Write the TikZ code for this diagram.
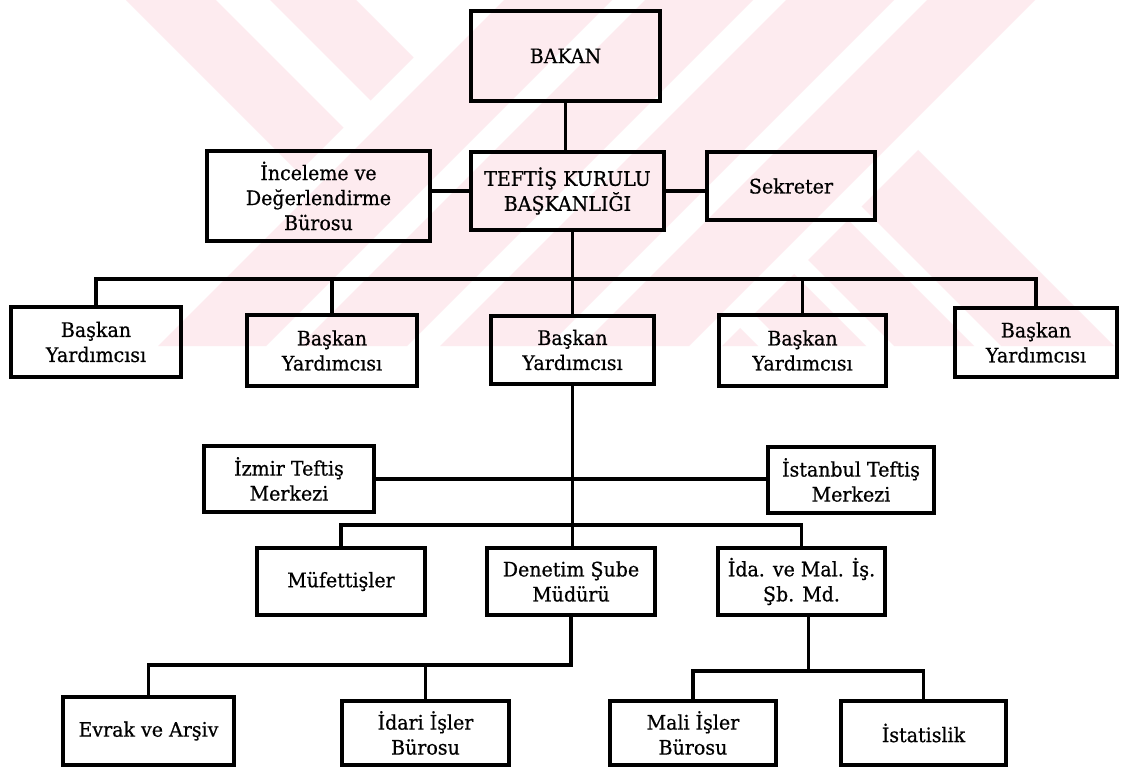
\documentclass[tikz,border=0pt]{standalone}
\usepackage{fontspec}
\setmainfont{DejaVu Serif}
\newfontfamily\boxfont[FakeBold=0.6,FakeStretch=0.95]{DejaVu Serif}
\usetikzlibrary{calc}
\definecolor{wmpink}{RGB}{253,235,239}
\begin{document}
\begin{tikzpicture}[x=1pt,y=-1pt,
  box/.style={draw=black, line width=3.6pt, align=center, inner sep=0pt,
              font=\boxfont\fontsize{20}{25}\selectfont},
  conn/.style={draw=black, line width=3.2pt},
  wm/.style={fill=wmpink, draw=none}
]
\useasboundingbox (0,0) rectangle (1122,769);
\fill[white] (0,0) rectangle (1122,769);

% ---------- watermark (faint logo of diagonal stripes) ----------
\begin{scope}
  \clip (0,0) rectangle (1122,346);
  % upper-left part: "\" stripes, left of the white line x+y=471..504
  \begin{scope}
    \clip (0,0) -- (471,0) -- (125,346) -- (0,346) -- cycle;
    \fill[wm] (126,0) -- (216,0) -- (562,346) -- (472,346) -- cycle;
    \fill[wm] (270,0) -- (356,0) -- (702,346) -- (616,346) -- cycle;
  \end{scope}
  % central part: "/" stripes
  \foreach \s/\e in {504/612,645/753,786/894,927/1035}{
    \fill[wm] (\s,0) -- (\e,0) -- ({\e-346},346) -- ({\s-346},346) -- cycle;
  }
  % lower-right part: "\" stripes, right of the white line x+y=1035..1068
  \begin{scope}
    \clip (1068,0) -- (1200,0) -- (1200,346) -- (722,346) -- cycle;
    \foreach \p/\q in {655/768,548/628,440/520,332/412}{
      \fill[wm] (\p,0) -- (\q,0) -- ({\q+346},346) -- ({\p+346},346) -- cycle;
    }
  \end{scope}
\end{scope}

% ---------- nodes ----------
\node[box, minimum width=189pt, minimum height=90pt] (bakan)  at (565.5,56)  {BAKAN};
\node[box, minimum width=193pt, minimum height=78pt] (teftis) at (567.5,191) {TEFTİŞ KURULU\\BAŞKANLIĞI};
\node[box, minimum width=223pt, minimum height=90pt] (ince)   at (318.5,196) {İnceleme ve\\Değerlendirme\\Bürosu};
\node[box, minimum width=168pt, minimum height=68pt] (sek)    at (791,186)   {Sekreter};

\node[box, minimum width=170pt, minimum height=70pt] (b1) at (96,342)     {Başkan\\Yardımcısı};
\node[box, minimum width=170pt, minimum height=71pt] (b2) at (332,350.5)  {Başkan\\Yardımcısı};
\node[box, minimum width=163pt, minimum height=68pt] (b3) at (572.5,350)  {Başkan\\Yardımcısı};
\node[box, minimum width=167pt, minimum height=71pt] (b4) at (802.5,350.5){Başkan\\Yardımcısı};
\node[box, minimum width=162pt, minimum height=69pt] (b5) at (1036,342.5) {Başkan\\Yardımcısı};

\node[box, minimum width=170pt, minimum height=66pt] (izmir) at (289,479) {İzmir Teftiş\\Merkezi};
\node[box, minimum width=166pt, minimum height=66pt] (ist)   at (851,480) {İstanbul Teftiş\\Merkezi};

\node[box, minimum width=168pt, minimum height=67pt] (muf) at (341,581.5)   {Müfettişler};
\node[box, minimum width=168pt, minimum height=67pt] (den) at (571,581.5)   {Denetim Şube\\Müdürü};
\node[box, minimum width=167pt, minimum height=67pt] (ida) at (801.5,581.5) {İda. ve Mal. İş.\\Şb. Md.};

\node[box, minimum width=171pt, minimum height=68pt] (evrak) at (148.5,731) {Evrak ve Arşiv};
\node[box, minimum width=167pt, minimum height=64pt] (idari) at (425.5,733) {İdari İşler\\Bürosu};
\node[box, minimum width=166pt, minimum height=64pt] (mali)  at (693,733)   {Mali İşler\\Bürosu};
\node[box, minimum width=165pt, minimum height=64pt] (istat) at (923.5,733) {İstatislik};

% ---------- connectors ----------
\coordinate (bary) at (0,279);
\coordinate (bar2) at (0,525);
\coordinate (bar3) at (0,665);
\coordinate (bar4) at (0,671);
\coordinate (mid4) at ($(mali.north)!0.5!(istat.north)$);

\draw[conn] (bakan.south) -- (bakan.south |- teftis.north);
\draw[conn] (ince.east |- teftis.west) -- (teftis.west);
\draw[conn] (teftis.east) -- (sek.west |- teftis.east);
\draw[conn] (b3.north |- teftis.south) -- (b3.north);
\draw[conn] (b1.north) -- (b1.north |- bary) -- (b5.north |- bary) -- (b5.north);
\draw[conn] (b2.north) -- (b2.north |- bary);
\draw[conn] (b4.north) -- (b4.north |- bary);

\draw[conn] (b3.south) -- (b3.south |- den.north);
\draw[conn] (izmir.east) -- (ist.west |- izmir.east);
\draw[conn] (muf.north) -- (muf.north |- bar2) -- (ida.north |- bar2) -- (ida.north);

\draw[conn] (den.south) -- (den.south |- bar3) -- (evrak.north |- bar3) -- (evrak.north);
\draw[conn] (idari.north) -- (idari.north |- bar3);
\draw[conn] (mid4 |- ida.south) -- (mid4 |- bar4);
\draw[conn] (mali.north) -- (mali.north |- bar4) -- (istat.north |- bar4) -- (istat.north);
\end{tikzpicture}
\end{document}
